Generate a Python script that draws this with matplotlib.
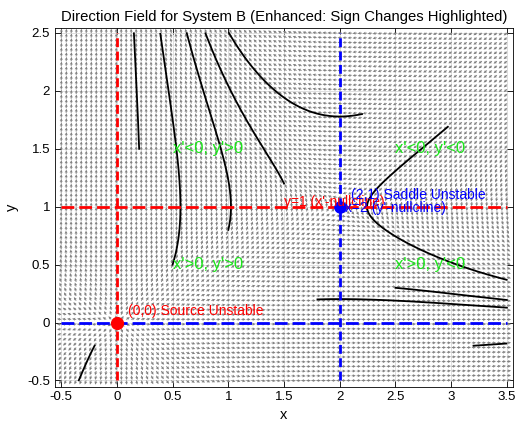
import numpy as np
import matplotlib
matplotlib.use("Agg")
import matplotlib.pyplot as plt

plt.rcParams['font.family'] = ['Liberation Sans', 'DejaVu Sans']

# System B:  x' = x*(a - y),  y' = y*(b - x)
a_coef = 1.0
b_coef = 2.0

# field window and grid counts
x_range = [-0.5, 3.5]
y_range = [-0.5, 2.5]
nx, ny = 90, 75

# equilibria
eq_source = (0, 0)
eq_saddle = (2, 1)

# trajectory starting points
traj_x0 = [0.2, 0.5, 1.0, 1.5, 2.2, 2.97, 1.8, 2.5, 3.2, -0.2]
traj_y0 = [1.5, 0.5, 0.8, 1.2, 1.8, 1.69, 0.2, 0.3, -0.2, -0.2]

region_labels = ["x'<0, y'>0", "x'<0, y'<0", "x'>0, y'>0", "x'>0, y'<0"]
region_x = [0.5, 2.5, 0.5, 2.5]
region_y = [1.5, 1.5, 0.5, 0.5]


def rhs(x, y):
    return x * (a_coef - y), y * (b_coef - x)


def trajectory(x0, y0, dt=0.002, nmax=20000):
    xs, ys = [x0], [y0]
    x, y = x0, y0
    for _ in range(nmax):
        k1 = rhs(x, y)
        k2 = rhs(x + dt/2*k1[0], y + dt/2*k1[1])
        k3 = rhs(x + dt/2*k2[0], y + dt/2*k2[1])
        k4 = rhs(x + dt*k3[0], y + dt*k3[1])
        x = x + dt/6*(k1[0] + 2*k2[0] + 2*k3[0] + k4[0])
        y = y + dt/6*(k1[1] + 2*k2[1] + 2*k3[1] + k4[1])
        if x < x_range[0] or x > x_range[1] or y < y_range[0] or y > y_range[1]:
            break
        xs.append(x)
        ys.append(y)
    return np.array(xs), np.array(ys)


fig = plt.figure(figsize=(5.19, 4.29), dpi=100)
ax = fig.add_axes([55/519, 1 - 386.5/429, (512.5-55)/519, (386.5-28)/429])

X, Y = np.meshgrid(np.linspace(x_range[0], x_range[1], nx),
                   np.linspace(y_range[0], y_range[1], ny))
U, V = rhs(X, Y)
L = np.hypot(U, V)
L[L == 0] = 1
ax.quiver(X, Y, U/L, V/L, color='0.5', angles='xy', scale_units='xy',
          scale=1/0.037, width=0.0021, headwidth=3.2, headlength=3.2,
          headaxislength=2.8, zorder=2)

for x0, y0 in zip(traj_x0, traj_y0):
    tx, ty = trajectory(x0, y0)
    ax.plot(tx, ty, color='k', lw=1.3, zorder=3)

# x'-nullclines (red) and y'-nullclines (blue)
ax.plot([0, 0], y_range, color='r', lw=2, dashes=(3.2, 1.6), zorder=4)
ax.plot(x_range, [1, 1], color='r', lw=2, dashes=(4.6, 1.8), zorder=4)
ax.plot([2, 2], y_range, color='b', lw=2, dashes=(3.2, 1.6), zorder=4)
ax.plot(x_range, [0, 0], color='b', lw=2, dashes=(4.6, 1.8), zorder=4)

ax.plot(*eq_source, 'o', color='r', ms=8.5, zorder=5)
ax.plot(*eq_saddle, 'o', color='b', ms=8, zorder=5)

ax.text(0.1, 0.1, '(0,0) Source Unstable', color='r', fontsize=10, va='center', zorder=6)
ax.text(1.5, 1.04, "y=1 (x'-nullcline)", color='r', fontsize=10, va='center', zorder=6)
ax.text(2.1, 1.1, '(2,1) Saddle Unstable', color='b', fontsize=10, va='center', zorder=6)
ax.text(2.05, 0.99, "x=2 (y'-nullcline)", color='b', fontsize=10, va='center', zorder=6)

for lab, lx, ly in zip(region_labels, region_x, region_y):
    ax.text(lx, ly, lab, color=(0.1, 0.9, 0.1), fontsize=12, va='center', zorder=6)

ax.set_xlim(-0.555, 3.55)
ax.set_ylim(-0.552, 2.543)
ax.set_xticks(np.arange(-0.5, 3.51, 0.5))
ax.set_yticks(np.arange(-0.5, 2.51, 0.5))
ax.set_xticklabels(['-0.5', '0', '0.5', '1', '1.5', '2', '2.5', '3', '3.5'])
ax.set_yticklabels(['-0.5', '0', '0.5', '1', '1.5', '2', '2.5'])
ax.tick_params(direction='in', top=True, right=True, length=4, labelsize=9.5, width=0.6)
ax.grid(True, color='0.85', lw=0.6, zorder=0)
ax.set_axisbelow(True)
for s in ax.spines.values():
    s.set_linewidth(0.6)

ax.set_xlabel('x', fontsize=10.5, labelpad=3)
ax.set_ylabel('y', fontsize=10.5, labelpad=6)
ax.set_title('Direction Field for System B (Enhanced: Sign Changes Highlighted)',
             fontsize=10.7, pad=5)

fig.savefig('out.png', dpi=100)
